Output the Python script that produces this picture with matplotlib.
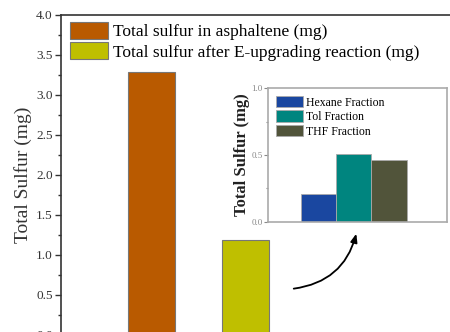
import matplotlib.pyplot as plt
from matplotlib.patches import FancyArrowPatch
from matplotlib.ticker import MultipleLocator

# main chart data
main_labels = ["Total sulfur in asphaltene (mg)",
               "Total sulfur after E-upgrading reaction (mg)"]
main_values = [3.28, 1.19]
main_colors = ["#B95A00", "#BFBF00"]

# inset data
frac_labels = ["Hexane Fraction", "Tol Fraction", "THF Fraction"]
frac_values = [0.21, 0.51, 0.46]
frac_colors = ["#1A47A0", "#00857F", "#51543A"]

plt.rcParams['font.family'] = ['Liberation Serif', 'DejaVu Serif']

fig = plt.figure(figsize=(4.5, 3.32), dpi=100)

# main axes (cropped at bottom and right like the original)
ax = fig.add_axes([61 / 450, -2.7 / 332, 402 / 450, 320 / 332])
xs = [1, 2]
for x, v, c, lab in zip(xs, main_values, main_colors, main_labels):
    ax.bar(x, v, width=0.5, color=c, edgecolor="#777777", linewidth=0.8, label=lab)
ax.set_xlim(0.042, 4.3)
ax.set_ylim(0, 4.0)
ax.yaxis.set_major_locator(MultipleLocator(0.5))
ax.yaxis.set_minor_locator(MultipleLocator(0.25))
ax.tick_params(axis='y', which='major', direction='out', length=4, width=1,
               labelsize=9.5, colors='#333333', pad=2)
ax.tick_params(axis='y', which='minor', direction='out', length=2, width=1, colors='#333333')
ax.set_xticks([])
for s in ax.spines.values():
    s.set_color('#333333')
    s.set_linewidth(1.2)
ax.set_ylabel("Total Sulfur (mg)", fontsize=14, color='#333333', labelpad=3)
ax.legend(loc='upper left', frameon=False, fontsize=12.5, handlelength=2.2,
          handleheight=1.15, handletextpad=0.3, labelspacing=0.12,
          borderaxespad=0.0, bbox_to_anchor=(0.005, 1.0))

# inset axes
ins = fig.add_axes([268 / 450, 1 - 221.7 / 332, (446.7 - 268) / 450, (221.7 - 88.3) / 332])
ix = [0, 1, 2]
for x, v, c, lab in zip(ix, frac_values, frac_colors, frac_labels):
    ins.bar(x, v, width=1.0, color=c, edgecolor="#aaaaaa", linewidth=0.6, label=lab)
ins.set_xlim(-1.43, 3.63)
ins.set_ylim(0, 1.0)
ins.yaxis.set_major_locator(MultipleLocator(0.5))
ins.yaxis.set_minor_locator(MultipleLocator(0.25))
ins.tick_params(axis='y', which='major', direction='out', length=3, width=0.8,
                labelsize=6.5, colors='#888888', pad=1)
ins.tick_params(axis='y', which='minor', direction='out', length=1.5, width=0.8, colors='#888888')
ins.set_xticks([])
for s in ins.spines.values():
    s.set_color('#aaaaaa')
    s.set_linewidth(1.2)
ins.set_ylabel("Total Sulfur (mg)", fontsize=12, fontweight='bold', color='#222222', labelpad=1)
ins.legend(loc='upper left', frameon=False, fontsize=8.5, handlelength=2.3,
           handleheight=1.1, handletextpad=0.25, labelspacing=0.15,
           borderaxespad=0.25)

# curved arrow from main bar toward inset
fig.patches.append(FancyArrowPatch(
    (291 / 450, 1 - 289 / 332), (357 / 450, 1 - 231 / 332),
    transform=fig.transFigure, connectionstyle="arc3,rad=0.35",
    arrowstyle="-|>,head_length=5,head_width=2", color='black', linewidth=1.3))

fig.savefig("out.png", dpi=100)
